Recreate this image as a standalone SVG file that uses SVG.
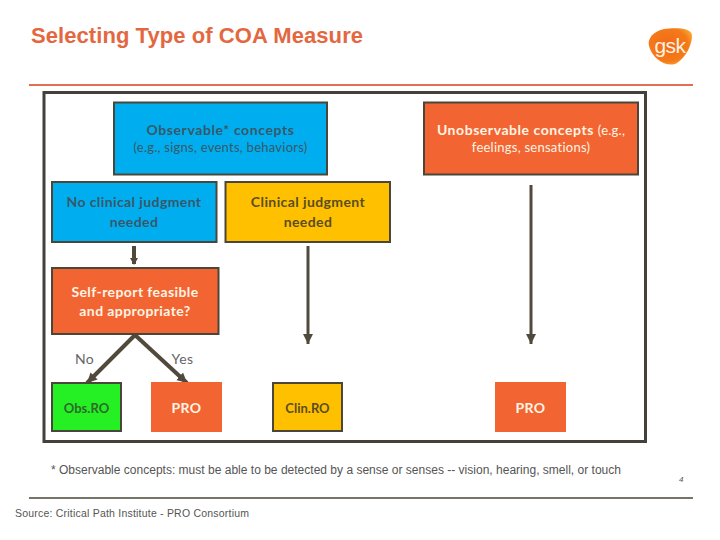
<svg xmlns="http://www.w3.org/2000/svg" width="720" height="540" viewBox="0 0 720 540">
<style>
.box{stroke:#4a4639;stroke-width:2}
.blue{fill:#00aeef}.amber{fill:#ffc000}.orange{fill:#f26532}.green{fill:#24f024}
text{font-family:"Lato","Liberation Sans",sans-serif;text-anchor:middle}
.lab{font-size:14px;font-weight:700;fill:#3f5663;letter-spacing:0.400px}
.tag{font-size:13px;letter-spacing:0}
.sub{font-size:13px;font-weight:400;letter-spacing:0.250px}
.dk{fill:#5a4d20}.wh{fill:#fff4e4}
.blt{fill:#38586a}
.plain{font-size:14px;fill:#666;letter-spacing:0.400px}
.ar{font-family:"Liberation Sans",sans-serif;text-anchor:start;fill:#555}
.conn{stroke:#51493c;fill:none;marker-end:url(#ah)}
</style>
<defs>
<marker id="ah" markerUnits="userSpaceOnUse" markerWidth="12" markerHeight="12" refX="10" refY="5" orient="auto"><path d="M0 0L10 5L0 10Z" fill="#51493c"/></marker>
<radialGradient id="gskg" cx="0.45" cy="0.45" r="0.65"><stop offset="0" stop-color="#f26a1a"/><stop offset="0.7" stop-color="#f47a18"/><stop offset="1" stop-color="#fbb03b"/></radialGradient>
</defs>
<rect width="720" height="540" fill="#fff"/>
<text id="title" x="31" y="43" textLength="332" style="text-anchor:start;font-family:'Liberation Sans',sans-serif;font-weight:700;font-size:22px;fill:#e3683f">Selecting Type of COA Measure</text>
<g id="logo"><path d="M649 46C647 38 654 31 664 29C674 28 692 27 692 36C692 46 684 60 675 64C665 67 652 58 649 46Z" fill="url(#gskg)"/><text x="670" y="53" style="font-family:'Liberation Sans',sans-serif;font-size:21px;fill:#fff1e0;letter-spacing:-0.500px">gsk</text></g>
<line x1="29" y1="85" x2="693" y2="85" stroke="#e0704f" stroke-width="2"/>
<rect id="frame" x="44" y="92.500" width="601.500" height="349" fill="none" stroke="#45413a" stroke-width="3"/>
<g id="connectors">
<line class="conn" x1="134" y1="246" x2="134" y2="264" stroke-width="4" style="marker-end:none"/>
<path d="M130 258H138L134 265Z" fill="#51493c"/>
<line class="conn" x1="308" y1="246" x2="308" y2="344" stroke-width="3"/>
<line class="conn" x1="531" y1="185" x2="531" y2="344" stroke-width="3"/>
<line class="conn" x1="135" y1="335" x2="87" y2="383" stroke-width="4"/>
<line class="conn" x1="135" y1="335" x2="187" y2="383" stroke-width="4"/>
</g>
<g id="n-observable"><rect class="box blue" x="114" y="102.500" width="213" height="72"/><text class="lab blt" x="220.500" y="135" style="letter-spacing:0.600px">Observable* concepts</text><text class="sub blt" x="220.500" y="152">(e.g., signs, events, behaviors)</text></g>
<g id="n-unobservable"><rect class="box orange" x="424" y="102.500" width="214" height="72"/><text class="lab wh" x="531" y="135" style="letter-spacing:0.550px">Unobservable concepts <tspan class="sub">(e.g.,</tspan></text><text class="sub wh" x="531" y="152">feelings, sensations)</text></g>
<g id="n-noclin"><rect class="box blue" x="52" y="182" width="164.500" height="60"/><text class="lab blt" x="134" y="207">No clinical judgment</text><text class="lab blt" x="134" y="227">needed</text></g>
<g id="n-clin"><rect class="box amber" x="225.500" y="182" width="164.500" height="60"/><text class="lab dk" x="308" y="207">Clinical judgment</text><text class="lab dk" x="308" y="227">needed</text></g>
<g id="n-self"><rect class="box orange" x="52" y="268" width="166.500" height="66"/><text class="lab wh" x="135" y="297">Self-report feasible</text><text class="lab wh" x="135" y="316">and appropriate?</text></g>
<g id="n-obsro"><rect class="box green" x="52" y="383" width="69" height="48"/><text class="lab tag" x="86.500" y="413" style="fill:#2d6b2a">Obs.RO</text></g>
<g id="n-pro1"><rect class="orange" x="151" y="382" width="71" height="50"/><text class="lab wh" x="186.500" y="413">PRO</text></g>
<g id="n-clinro"><rect class="box amber" x="273" y="383" width="69" height="48"/><text class="lab dk tag" x="307.500" y="413">Clin.RO</text></g>
<g id="n-pro2"><rect class="orange" x="495" y="382" width="71" height="50"/><text class="lab wh" x="530.500" y="413">PRO</text></g>
<text class="plain" x="84.500" y="364">No</text>
<text class="plain" x="182.500" y="364">Yes</text>
<text class="ar" x="51" y="474" font-size="12" textLength="570">* Observable concepts: must be able to be detected by a sense or senses -- vision, hearing, smell, or touch</text>
<text class="ar" x="679" y="482" font-size="8" font-style="italic">4</text>
<line x1="29" y1="498" x2="693" y2="498" stroke="#4a4639" stroke-width="1.500"/>
<text class="ar" x="15" y="517" font-size="10.500" textLength="234">Source: Critical Path Institute - PRO Consortium</text>
</svg>
